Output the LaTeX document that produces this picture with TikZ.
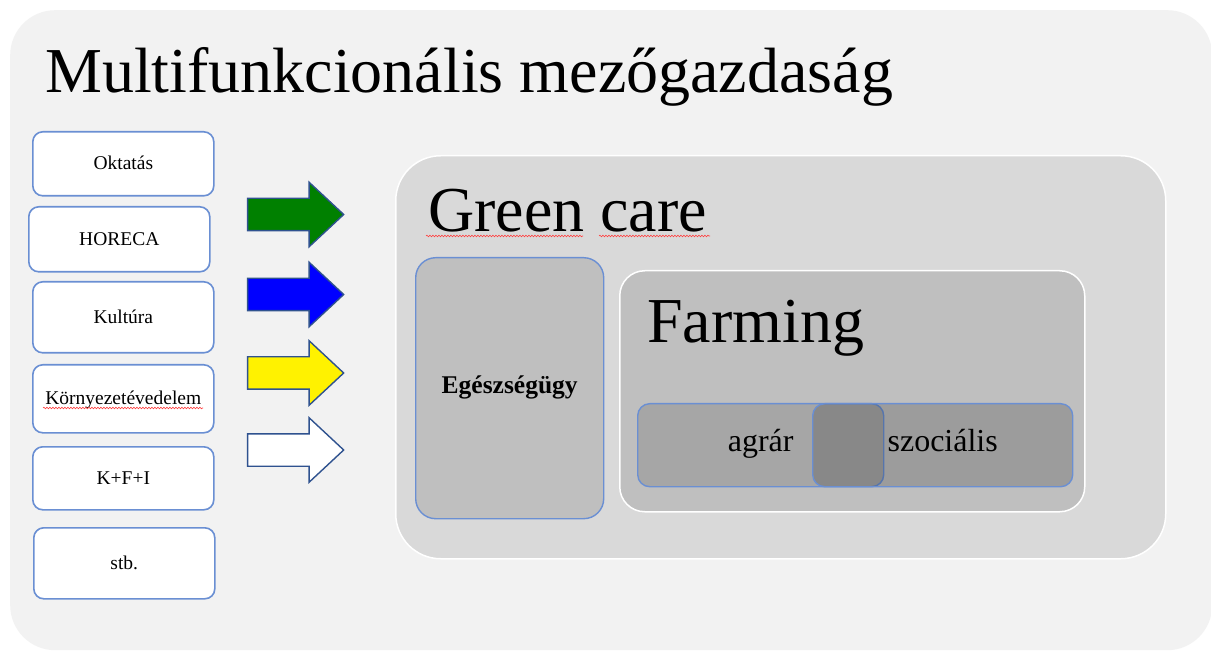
\documentclass[tikz,border=0pt]{standalone}
\usepackage{fontspec}
\setmainfont{Liberation Serif}
\usetikzlibrary{shapes.arrows,decorations.pathmorphing}
\definecolor{outerfill}{HTML}{F2F2F2}
\definecolor{carefill}{HTML}{D9D9D9}
\definecolor{farmfill}{HTML}{BFBFBF}
\definecolor{agrarfill}{HTML}{A6A6A6}
\definecolor{boxline}{HTML}{6A8FD3}
\definecolor{arrowline}{HTML}{2F528F}
\definecolor{arrowgreen}{HTML}{008000}

\begin{document}
\begin{tikzpicture}%
  [x=1pt,y=-1pt,
   panel/.style=
    {rounded corners=#1,anchor=north west,inner sep=0pt},
   field/.style=
    {draw=boxline,line width=1.6pt,fill=white,rounded corners=10pt,
     anchor=north west,inner sep=0pt,minimum width=181pt,
     text height=1.4em,text depth=0.2em,font=\fontsize{19.5}{22}\selectfont},
   bigtitle/.style=
    {anchor=base west,inner sep=0pt,font=\fontsize{64}{70}\selectfont},
   inflow/.style=
    {single arrow,draw=arrowline,line width=1.4pt,minimum height=96pt,
     minimum width=63pt,inner sep=15.5pt,single arrow head extend=16pt,
     single arrow tip angle=86},
   typo/.style={red!75,line width=0.6pt,decorate,
     decoration={snake,amplitude=0.8pt,segment length=3pt}}
  ]
  \useasboundingbox (0,0) rectangle (1211,652);
  \fill[white] (0,0) rectangle (1211,652);
  % nested panels
  \node[panel=45pt,fill=outerfill,minimum width=1202pt,minimum height=640pt] (outer) at (10,10) {};
  \node[panel=45pt,fill=carefill,draw=white,line width=1.5pt,minimum width=770pt,minimum height=403pt] (care) at (395,155) {};
  \node[panel=25pt,fill=farmfill,draw=white,line width=1.5pt,minimum width=465pt,minimum height=241pt] (farm) at (619,270) {};
  \node[panel=20pt,fill=farmfill,draw=boxline,line width=1.4pt,minimum width=188pt,minimum height=261pt,
        font=\bfseries\fontsize{25.5}{28}\selectfont,text height=1.3em,text depth=0.22em] (health) at (415,257) {Egészségügy};
  \node[panel=12pt,fill=agrarfill,draw=boxline,line width=1.4pt,minimum width=246pt,minimum height=83pt,
        font=\fontsize{32}{36}\selectfont,text height=1.38em,text depth=0.22em] (agrar) at (637,403) {agrár};
  \node[panel=12pt,fill=black,fill opacity=0.18,text opacity=1,draw=boxline,draw opacity=1,line width=1.4pt,
        minimum width=260pt,minimum height=83pt,
        font=\fontsize{32}{36}\selectfont,text height=1.38em,text depth=0.22em] (social) at (812,403) {szociális};
  % titles
  \node[bigtitle] (main) at (45,93) {Multifunkcionális mezőgazdaság};
  \node[bigtitle] (gctitle) at (428,232) {Green care};
  \node[bigtitle] (farmtitle) at (647,343) {Farming};
  \draw[typo] (426,236) -- (583,236);
  \draw[typo] (599,236) -- (710,236);
  % functions
  \node[field,minimum height=64pt] (okt) at (32,131) {Oktatás};
  \node[field,minimum height=65pt] (horeca) at (28,206) {HORECA};
  \node[field,minimum height=71pt] (kult) at (32,281) {Kultúra};
  \node[field,minimum height=68pt] (korny) at (32,364) {Környezetévedelem};
  \node[field,minimum height=63pt] (kfi) at (32,446) {K+F+I};
  \node[field,minimum height=71pt] (stb) at (33,527) {stb.};
  \draw[typo] (43,408) -- (203,408);
  % arrows
  \node[inflow,fill=arrowgreen] (a1) at (287,214.5) {};
  \node[inflow,fill=blue] (a2) at (287,294.5) {};
  \node[inflow,fill=yellow] (a3) at (287,373) {};
  \node[inflow,fill=white] (a4) at (287,450) {};

\end{tikzpicture}
\end{document}
